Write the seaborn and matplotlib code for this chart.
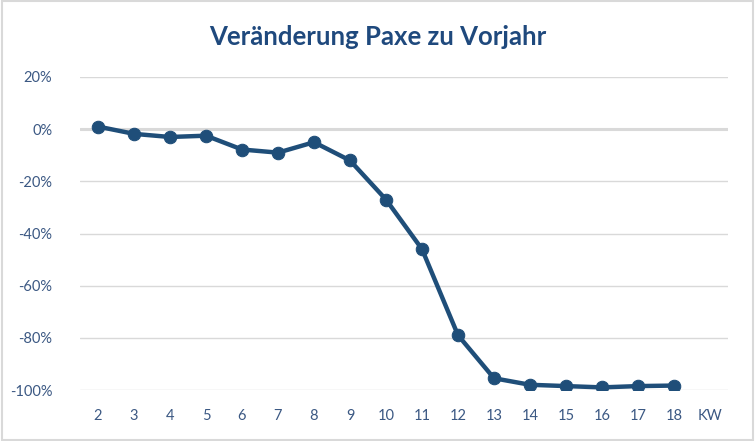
# plot.py
import pandas as pd
import seaborn as sns
import matplotlib.pyplot as plt
from matplotlib.ticker import PercentFormatter

# Calendar weeks and change in passengers vs. previous year (%)
weeks = ["2", "3", "4", "5", "6", "7", "8", "9", "10", "11", "12", "13", "14", "15", "16", "17", "18"]
change_pct = [1, -1.8, -3, -2.5, -7.8, -9, -5, -12, -27, -46, -79, -95.5, -98, -98.5, -99, -98.5, -98.3]
axis_label = "KW"

df = pd.DataFrame({"KW": range(len(weeks)), "Change": change_pct})

sns.set_style("white")
plt.rcParams["font.family"] = ["Lato", "DejaVu Sans"]
plt.rcParams["axes.unicode_minus"] = False

blue = "#1f4e79"
title_blue = "#1f497d"
tick_blue = "#3b5883"

fig = plt.figure(figsize=(7.55, 4.41), dpi=100)
ax = fig.add_axes([80 / 755, 1 - 390 / 441, 648 / 755, 313 / 441])

sns.lineplot(x="KW", y="Change", data=df, ax=ax, color=blue, linewidth=3.2,
             marker="o", markersize=9, markeredgecolor=blue, zorder=3)

# Axes and grid
ax.set_ylim(-100, 20)
ax.set_xlim(-0.5, len(weeks) + 0.5)
ax.set_yticks(range(-100, 21, 20))
ax.yaxis.set_major_formatter(PercentFormatter(decimals=0))
ax.set_xticks(range(len(weeks) + 1))
ax.set_xticklabels(weeks + [axis_label])
for y in range(-100, 21, 20):
    ax.axhline(y, color="#d9d9d9", linewidth=2.2 if y == 0 else 1.0, zorder=1)
for s in ax.spines.values():
    s.set_visible(False)
ax.tick_params(axis="both", length=0, labelsize=10.5, labelcolor=tick_blue)
ax.tick_params(axis="x", pad=14)
ax.tick_params(axis="y", pad=20)
ax.set_xlabel("")
ax.set_ylabel("")

fig.text(0.5, 1 - 37 / 441, "Veränderung Paxe zu Vorjahr", ha="center", va="center",
         fontsize=18.5, fontweight="bold", color=title_blue)

# Light chart border
fig.patches.append(plt.Rectangle((0.002, 0.003), 0.996, 0.994, transform=fig.transFigure,
                                 fill=False, edgecolor="#d9d9d9", linewidth=1.5))

plt.savefig("out.png", dpi=100)
print("out.png saved.")
